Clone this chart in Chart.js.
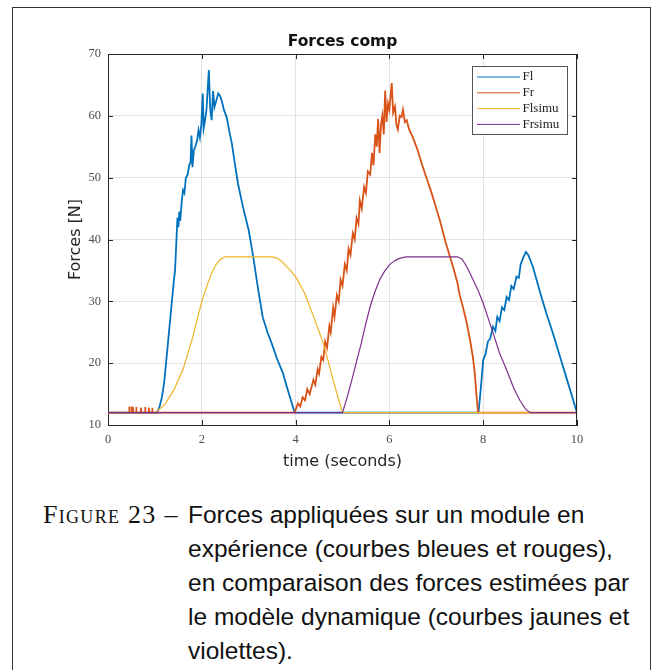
<!DOCTYPE html>
<html>
<head>
<meta charset="utf-8">
<script src="https://cdn.jsdelivr.net/npm/chart.js@4.4.1/dist/chart.umd.min.js"></script>
<style>
  body { margin: 0; background: #fff; }
  #page { position: relative; width: 655px; height: 670px; overflow: hidden; }
  #frame { position: absolute; left: 12px; top: 7px; width: 639px; height: 680px; border: 1px solid #333; box-sizing: border-box; }
  #chartBox { position: absolute; left: 0; top: 0; width: 655px; height: 480px; }
  #caption { position: absolute; left: 43px; top: 498px; display: flex; font-family: "Liberation Sans", Arial, sans-serif; font-size: 24.5px; line-height: 34px; color: #111; }
  #caption .lab { font-family: "Liberation Serif", serif; font-variant: small-caps; font-size: 26px; width: 145px; white-space: nowrap; letter-spacing: 1.3px; }
</style>
</head>
<body>
<div id="page">
  <div id="frame"></div>
  <div id="chartBox"><canvas id="forcesChart" width="655" height="480"></canvas></div>
  <div id="caption">
    <div class="lab">Figure 23 –</div>
    <div>Forces appliquées sur un module en<br>expérience (courbes bleues et rouges),<br>en comparaison des forces estimées par<br>le modèle dynamique (courbes jaunes et<br>violettes).</div>
  </div>
</div>
<script>
// measured Fl (blue)
const flT = [0, 1.05, 1.1, 1.15, 1.2, 1.25, 1.3, 1.35, 1.4, 1.43, 1.46, 1.48, 1.5, 1.52, 1.54, 1.57, 1.6, 1.63, 1.66, 1.7, 1.73, 1.76, 1.78, 1.8, 1.83, 1.86, 1.9, 1.93, 1.96, 1.99, 2.02, 2.04, 2.07, 2.1, 2.15, 2.18, 2.21, 2.24, 2.27, 2.31, 2.35, 2.39, 2.43, 2.47, 2.53, 2.6, 2.64, 2.7, 2.77, 2.88, 3.0, 3.09, 3.2, 3.3, 3.4, 3.5, 3.6, 3.73, 3.8, 3.9, 3.98,
  7.9, 7.95, 8.0, 8.05, 8.1, 8.15, 8.21, 8.26, 8.3, 8.35, 8.4, 8.45, 8.5, 8.55, 8.6, 8.65, 8.71, 8.76, 8.8, 8.86, 8.91, 8.96, 9.06, 9.2, 9.35, 9.5, 9.64, 9.78, 9.92, 10];
const flV = [12, 12, 13, 14.5, 17, 21, 25, 29, 33, 35, 40, 43.5, 42, 44.5, 43, 46, 48, 47.5, 50, 50.5, 52, 52.5, 56.8, 51.7, 54.4, 55, 56, 57.7, 56.5, 58.5, 63.6, 58, 59.3, 61, 67.4, 61, 59.3, 64, 61.4, 62.5, 63.6, 63.2, 62.3, 61, 59.8, 57, 55.6, 52.5, 49.1, 45.2, 41.5, 37.5, 32, 27.4, 25, 23, 20.8, 18.4, 16.5, 14, 12,
  12, 16, 20.5, 21.5, 23.5, 24, 25.9, 25.2, 27.5, 26.8, 29, 28.6, 30.7, 30.2, 32.5, 32, 34, 33.8, 36, 37.2, 38, 37.5, 35.6, 31.8, 28, 24.5, 21, 17.5, 14, 12];

// measured Fr (red)
const frT = [0, 0.45, 0.45, 0.46, 0.5, 0.5, 0.51, 0.53, 0.53, 0.54, 0.6, 0.6, 0.61, 0.7, 0.7, 0.71, 0.79, 0.79, 0.8, 0.87, 0.87, 0.88, 0.94, 0.94, 0.95, 3.98,
  4.05, 4.1, 4.15, 4.2, 4.25, 4.3, 4.38, 4.42, 4.47, 4.5, 4.55, 4.59, 4.63, 4.67, 4.72, 4.75, 4.8, 4.83, 4.88, 4.92, 4.96, 5.0, 5.05, 5.09, 5.13, 5.17, 5.22, 5.26, 5.3, 5.34, 5.37, 5.41, 5.46, 5.5, 5.54, 5.59, 5.63, 5.66, 5.7, 5.73, 5.76, 5.79, 5.82, 5.85, 5.88, 5.91, 5.94, 5.97, 6.0, 6.05, 6.08, 6.12, 6.15, 6.18, 6.22, 6.26, 6.29, 6.33, 6.37, 6.42, 6.5, 6.6, 6.7, 6.79, 6.9, 7.0, 7.08, 7.2, 7.3, 7.36, 7.45, 7.5, 7.57, 7.65, 7.72, 7.78, 7.82, 7.86, 7.89, 10];
const frV = [12, 12, 13, 12, 12, 13, 12, 12, 12.9, 12, 12, 12.9, 12, 12, 12.8, 12, 12, 12.9, 12, 12, 12.8, 12, 12, 12.8, 12, 12,
  13.5, 13, 14.5, 14, 15.8, 15, 17.3, 16.5, 19, 18.3, 21, 20.5, 23.5, 22.5, 26, 25, 29, 27.5, 31, 30, 33.5, 32.5, 36, 35, 38.5, 37.5, 41, 40, 43.5, 42.5, 46.3, 45, 48.5, 47.5, 51, 50.5, 54, 52, 57, 55, 59.5, 54, 58.5, 60, 57, 64.1, 59, 62, 61, 65.3, 60.5, 61.5, 58.5, 57.8, 60, 59.8, 61, 59, 59.3, 57.8, 56.5, 54.5, 52, 50, 47.5, 45, 43, 39.5, 37, 35.5, 33, 31, 29, 26.5, 23.7, 21, 18.4, 14.5, 12, 12];

// simulated Flsimu (yellow)
const flsT = [0, 1.0, 1.2, 1.4, 1.6, 1.8, 2.0, 2.1, 2.2, 2.3, 2.4, 2.5, 3.5, 3.6, 3.7, 3.8, 3.9, 4.0, 4.2, 4.4, 4.6, 4.8, 4.9, 5.0, 10];
const flsV = [12, 12, 13.2, 15.6, 19, 24, 30, 32.3, 34.4, 35.9, 36.8, 37.2, 37.2, 37.0, 36.5, 35.7, 34.9, 34, 31.2, 27.2, 23, 17.3, 14.6, 12, 12];

// simulated Frsimu (purple)
const frsT = [0, 5.0, 5.1, 5.2, 5.3, 5.4, 5.5, 5.6, 5.7, 5.8, 5.9, 6.0, 6.1, 6.2, 6.35, 7.45, 7.55, 7.65, 7.79, 7.9, 8.0, 8.1, 8.21, 8.35, 8.5, 8.65, 8.78, 8.9, 9.0, 10];
const frsV = [12, 12, 14.5, 17.3, 20.3, 23.2, 26.5, 29.4, 31.7, 33.6, 34.9, 35.9, 36.5, 36.9, 37.2, 37.2, 36.8, 35.6, 33.4, 31.6, 29.7, 27.4, 24.9, 21.6, 18.9, 16, 14, 12.6, 12, 12];

const seriesNames = ["Fl", "Fr", "Flsimu", "Frsimu"];
const seriesColors = ["#0072BD", "#D95319", "#EDB120", "#7E2F8E"];
const xTicks = [0, 2, 4, 6, 8, 10];
const yTicks = [10, 20, 30, 40, 50, 60, 70];

function pts(ts, vs) {
  return ts.map((t, i) => ({ x: t, y: vs[i] }));
}

const serif = "'Liberation Serif', 'Times New Roman', serif";
const sans = "'DejaVu Sans', sans-serif";

// box, inward ticks and legend drawn like MATLAB
const matlabBox = {
  id: "matlabBox",
  afterDraw(chart) {
    const { ctx, chartArea: a, scales } = chart;
    ctx.save();
    ctx.strokeStyle = "#262626";
    ctx.lineWidth = 1;
    ctx.beginPath();
    ctx.moveTo(a.left, a.top + 0.5); ctx.lineTo(a.right, a.top + 0.5);
    ctx.moveTo(a.right - 0.5, a.top); ctx.lineTo(a.right - 0.5, a.bottom);
    xTicks.forEach(v => {
      const px = Math.round(scales.x.getPixelForValue(v)) + 0.5;
      ctx.moveTo(px, a.bottom); ctx.lineTo(px, a.bottom - 5);
      ctx.moveTo(px, a.top); ctx.lineTo(px, a.top + 5);
    });
    yTicks.forEach(v => {
      const py = Math.round(scales.y.getPixelForValue(v)) + 0.5;
      ctx.moveTo(a.left, py); ctx.lineTo(a.left + 5, py);
      ctx.moveTo(a.right, py); ctx.lineTo(a.right - 5, py);
    });
    ctx.stroke();

    // legend
    const lx = 472.5, ly = 66.5, lw = 95, lh = 68;
    ctx.fillStyle = "#fff";
    ctx.fillRect(lx, ly, lw, lh);
    ctx.strokeStyle = "#555";
    ctx.strokeRect(lx, ly, lw, lh);
    ctx.font = "13px " + serif;
    ctx.textBaseline = "middle";
    ctx.fillStyle = "#222";
    seriesNames.forEach((name, i) => {
      const y = 77 + i * 15.8;
      ctx.strokeStyle = seriesColors[i];
      ctx.lineWidth = 1;
      ctx.beginPath();
      ctx.moveTo(477, y); ctx.lineTo(520, y);
      ctx.stroke();
      ctx.fillText(name, 522.5, y);
    });
    ctx.restore();
  }
};

const ctx = document.getElementById("forcesChart");

const config = {
  type: "line",
  data: {
    datasets: [
      { label: seriesNames[0], data: pts(flT, flV), borderColor: seriesColors[0], borderWidth: 1.8, order: 3 },
      { label: seriesNames[1], data: pts(frT, frV), borderColor: seriesColors[1], borderWidth: 1.8, order: 2 },
      { label: seriesNames[2], data: pts(flsT, flsV), borderColor: seriesColors[2], borderWidth: 1.2, order: 1 },
      { label: seriesNames[3], data: pts(frsT, frsV), borderColor: seriesColors[3], borderWidth: 1.2, order: 0 },
    ],
  },
  options: {
    responsive: false,
    animation: false,
    elements: { point: { radius: 0 }, line: { tension: 0 } },
    layout: { padding: { left: 0, right: 78, top: 0, bottom: 0 } },
    scales: {
      x: {
        type: "linear",
        min: 0,
        max: 10,
        afterFit: s => { s.height = 55; },
        afterBuildTicks: s => { s.ticks = xTicks.map(v => ({ value: v })); },
        grid: { color: "#e3e3e3", drawTicks: false },
        border: { color: "#262626" },
        ticks: { padding: 7, color: "#4d4d4d", font: { family: serif, size: 12.5 } },
        title: { display: true, text: "time (seconds)", color: "#262626", font: { family: sans, size: 16 }, padding: { top: 0, bottom: 8.4 } },
      },
      y: {
        min: 10,
        max: 70,
        afterFit: s => { s.width = 108; },
        afterBuildTicks: s => { s.ticks = yTicks.map(v => ({ value: v })); },
        grid: { color: "#e3e3e3", drawTicks: false },
        border: { color: "#262626" },
        ticks: { padding: 7, color: "#4d4d4d", font: { family: serif, size: 12.5 } },
        title: { display: true, text: "Forces [N]", color: "#262626", font: { family: sans, size: 16 }, padding: { top: 66.4, bottom: 0 } },
      },
    },
    plugins: {
      legend: { display: false },
      tooltip: { enabled: false },
      title: {
        display: true,
        text: "Forces comp",
        fullSize: false,
        color: "#111",
        font: { family: sans, size: 15.5, weight: "bold" },
        padding: { top: 32.7, bottom: 2.7 },
      },
    },
  },
  plugins: [matlabBox],
};

const forcesChart = new Chart(ctx, config);
</script>
</body>
</html>
